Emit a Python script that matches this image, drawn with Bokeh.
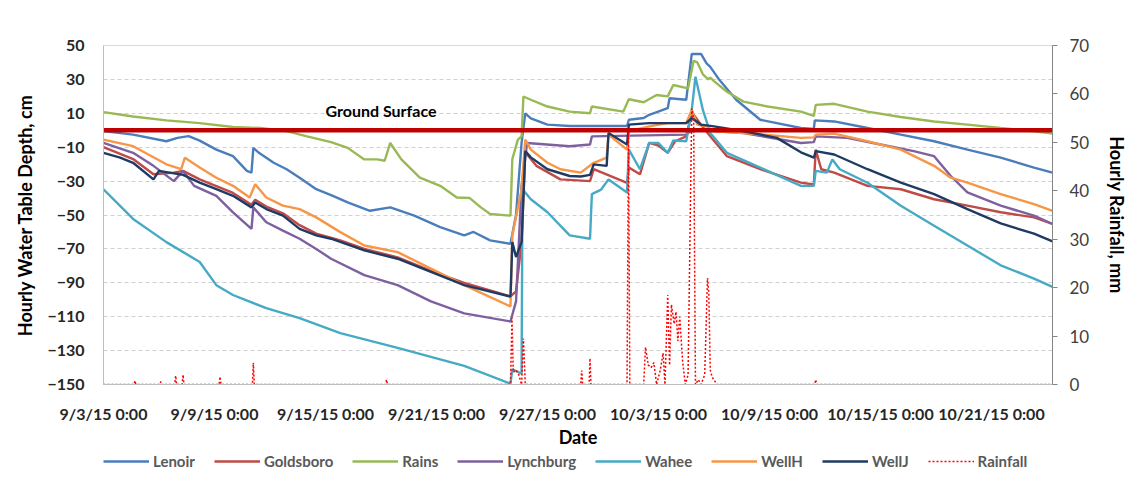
from bokeh.plotting import figure
from bokeh.layouts import column
from bokeh.models import Range1d, LinearAxis, FixedTicker, Legend, LegendItem, Label
from bokeh.embed import file_html
from bokeh.resources import INLINE

# ---------------- data ----------------
tick_days = [0, 6, 12, 18, 24, 30, 36, 42, 48]
tick_labels = ["9/3/15 0:00", "9/9/15 0:00", "9/15/15 0:00", "9/21/15 0:00", "9/27/15 0:00",
               "10/3/15 0:00", "10/9/15 0:00", "10/15/15 0:00", "10/21/15 0:00"]
depth_ticks = [-150, -130, -110, -90, -70, -50, -30, -10, 10, 30, 50]
rain_ticks = [0, 10, 20, 30, 40, 50, 60, 70]

lenoir_day = [0, 1.6, 3.4, 4.0, 4.6, 5.2, 6.1, 7.0, 7.75, 8.0, 8.1, 8.4, 9.2, 9.9, 10.6, 11.5, 12.4, 13.2,
              14.4, 15.5, 16.8, 18.2, 19.5, 20.0, 20.9, 22.0, 22.3, 22.6, 22.8, 23.1, 24.0, 25.2, 28.3,
              28.4, 29.2, 29.5, 30.5, 30.6, 31.5, 31.8, 32.3, 32.6, 32.8, 33.3, 34.2, 35.5, 37.7, 38.4,
              38.45, 39.5, 41.3, 43.1, 44.9, 46.7, 48.5, 50.3, 51.3]
lenoir_val = [-0.5, -2.6, -6.5, -4.5, -3.5, -6.1, -11.4, -15.3, -24, -25, -10.4, -13.3, -19.2, -23, -28,
              -34.8, -38.7, -42.6, -47.5, -45.5, -50.4, -57.2, -62, -60, -65, -67, -50, -7.5, 10, 7,
              3.3, 2.5, 2.5, 6.2, 7.2, 9.1, 13, 18.9, 18, 45, 45, 39.4, 37.4, 29.6, 18, 6.2, 1.3, 0.8,
              5.8, 5.2, 1.3, -2.6, -6.5, -11.4, -16.2, -22, -25]

goldsboro_day = [0, 1.6, 2.7, 3.8, 4.3, 5.2, 6.1, 7.0, 8.0, 8.2, 8.8, 9.7, 10.6, 11.5, 12.8, 14.1, 15.9,
                 17.7, 18.7, 19.5, 22.0, 22.3, 22.6, 22.8, 23.4, 24.7, 26.3, 26.5, 28.3, 28.4, 29.0,
                 29.5, 30.0, 30.5, 30.9, 31.5, 31.8, 32.3, 32.8, 33.7, 35.5, 37.7, 38.4, 38.5, 38.8,
                 39.5, 41.3, 43.1, 44.9, 46.7, 48.5, 50.3, 51.3]
goldsboro_val = [-10, -17, -26, -25, -24, -29, -33, -37, -44, -41, -45, -49, -56, -61, -65, -70, -75,
                 -83, -87, -90, -98, -95, -66, -13, -21, -29, -30, -23, -31, -22, -26, -7.5, -9, -13.3,
                 -6.5, -3.6, 10.6, 3.3, -3.6, -15.3, -23, -30.9, -32, -11.4, -23, -25, -32.8, -34.8,
                 -40.7, -44.5, -48.4, -51.4, -55.3]

rains_day = [0, 1.6, 3.4, 5.2, 7.0, 8.5, 9.9, 11.0, 12.3, 13.2, 14.1, 14.8, 15.2, 15.5, 16.1, 17.1, 18.2,
             19.1, 19.8, 20.4, 20.9, 22.0, 22.1, 22.4, 22.6, 22.7, 23.1, 24.0, 25.2, 26.3, 26.4, 28.1,
             28.4, 29.2, 29.9, 30.5, 30.8, 31.6, 31.9, 32.1, 32.4, 32.7, 32.8, 33.0, 33.7, 34.6, 35.9,
             37.7, 38.4, 38.5, 39.5, 41.3, 43.1, 44.9, 46.7, 48.5, 50.3, 51.3]
rains_val = [10.7, 8.1, 5.8, 4.2, 1.9, 1.3, -0.5, -3.6, -7, -10.4, -17.2, -17.2, -18, -7.5, -17.2, -28,
             -32.8, -39.7, -40, -45.5, -49.4, -50.4, -17, -5.5, -3.6, 19.9, 18, 14, 11, 10, 14, 11,
             18.3, 16.5, 20.8, 20, 26.7, 24.7, 41, 40, 33, 30, 31, 29, 22.7, 16.9, 14, 11, 8.5, 15,
             15.6, 11, 7.8, 5.2, 3.3, 1.3, -0.6, -2]

lynch_day = [0, 1.6, 2.7, 3.8, 4.3, 4.9, 6.1, 7.0, 8.0, 8.1, 8.8, 9.7, 10.6, 11.5, 12.3, 14.1, 15.9, 17.7,
             19.5, 22.0, 22.3, 22.6, 22.9, 25.2, 26.3, 26.4, 31.5, 31.8, 33.0, 34.6, 37.7, 38.4, 38.5,
             40.2, 42.0, 43.8, 44.9, 45.8, 46.7, 48.5, 50.3, 51.3]
lynch_val = [-7.5, -13.3, -21, -30, -24, -32.8, -38.7, -48.4, -58.2, -45.5, -54.3, -59.2, -64, -70,
             -75.8, -85.5, -91.4, -101, -108, -112.8, -101, -32.8, -7.5, -9.4, -8.4, -3.6, -2.6, 0.3,
             -0.5, -1.6, -7.5, -7, -3.6, -4.5, -8.4, -12.3, -15.3, -27, -36.7, -44.5, -50.4, -55.3]

wahee_day = [0, 1.6, 3.4, 5.2, 6.1, 7.0, 8.8, 10.6, 12.8, 15.9, 19.5, 22.0, 22.1, 22.6, 22.65, 23.1,
             24.0, 25.2, 26.3, 26.4, 26.9, 27.3, 28.3, 28.4, 29.0, 29.5, 30.0, 30.5, 30.8, 31.5, 31.8,
             32.0, 32.4, 32.8, 33.7, 35.5, 37.7, 38.4, 38.5, 39.1, 39.4, 39.8, 41.3, 43.1, 44.9, 46.7,
             48.5, 50.3, 51.3]
wahee_val = [-34.8, -52.3, -66, -77.7, -91.4, -97.2, -105, -110.9, -119.7, -128.4, -139, -149.5, -141,
             -143.6, -34.8, -40.7, -48.4, -62, -64, -37.7, -35, -29, -36.7, -11.4, -23, -7.5, -7.5,
             -13.3, -6, -6.5, 12, 31.6, 12, -1.6, -13.3, -22, -32.8, -32.8, -24, -25, -17.2, -23, -31,
             -44.5, -56.3, -68, -79.7, -87.5, -92.4]

wellh_day = [0, 1.6, 3.4, 4.2, 4.4, 5.2, 6.1, 7.0, 7.9, 8.2, 8.8, 9.7, 10.6, 11.5, 12.8, 14.1, 15.9, 17.7,
             19.5, 22.0, 22.1, 22.6, 22.8, 23.1, 24.0, 24.7, 25.8, 26.5, 27.2, 27.3, 28.3, 28.4, 29.5,
             30.5, 31.5, 31.8, 32.1, 32.6, 33.0, 34.6, 37.7, 38.4, 38.5, 39.5, 41.3, 43.1, 44.9, 45.8,
             46.7, 48.5, 50.3, 51.3]
wellh_val = [-5.5, -9.4, -20.1, -23, -16.2, -22, -28, -32.8, -39.7, -31.9, -39.7, -44.5, -46.5, -51.4,
             -60.1, -68, -71.9, -81.6, -91.4, -104, -62, -34.8, -5.5, -11.4, -19.2, -23, -25, -19.2,
             -16.2, -2.6, -11.4, -0.6, 2.3, 4.2, 4.2, 12, 3.3, 2.3, -0.6, -1.6, -4.5, -4.2, -2.6, -2,
             -6.5, -11.4, -21, -28, -30.9, -37.7, -43.6, -47.5]

wellj_day = [0, 0.9, 1.6, 2.7, 3.0, 4.3, 5.2, 6.1, 7.0, 8.0, 8.2, 8.8, 9.7, 10.6, 11.5, 12.3, 14.1, 15.9,
             17.7, 19.5, 22.0, 22.1, 22.3, 22.6, 22.8, 23.1, 24.0, 25.2, 25.8, 26.3, 26.5, 27.2, 27.3,
             28.3, 28.4, 29.5, 31.5, 31.8, 32.3, 33.0, 34.6, 36.4, 37.7, 38.4, 38.5, 39.5, 41.3, 43.1,
             44.9, 46.7, 48.5, 50.3, 51.3]
wellj_val = [-13.3, -16.2, -19.2, -29, -24, -26.3, -30.9, -34.8, -38.7, -45.5, -42.6, -46.5, -50.4,
             -58.2, -62, -64, -70.9, -75.8, -83.6, -91.4, -98.2, -66, -74.8, -66, -12.3, -16, -23, -27,
             -27.3, -26.3, -20.1, -21, -1.6, -8.4, 3.3, 4.2, 4.2, 7.2, 3.3, 2.3, -0.6, -4.5, -13, -16.2,
             -12.3, -14.3, -23, -30.9, -37.7, -46.5, -55, -61, -65.6]

rain_day = [0, 1.65, 1.7, 1.75, 3.05, 3.1, 3.15, 3.85, 3.9, 3.95, 4.25, 4.3, 4.35, 6.25, 6.3, 6.35,
            8.05, 8.1, 8.15, 15.25, 15.3, 15.35, 22.0, 22.08, 22.15, 22.3, 22.45, 22.6, 22.7, 22.8,
            25.8, 25.85, 25.9, 26.25, 26.3, 26.35, 28.3, 28.38, 28.45, 29.2, 29.3, 29.45, 29.6, 29.75,
            29.9, 30.1, 30.25, 30.35, 30.5, 30.6, 30.7, 30.85, 30.95, 31.05, 31.15, 31.3, 31.45, 31.6,
            31.8, 31.9, 32.0, 32.15, 32.3, 32.5, 32.65, 32.72, 32.8, 32.9, 33.0, 33.15, 38.45, 38.5,
            38.55, 51.3]
rain_val = [0, 0, 0.8, 0, 0, 0.6, 0, 0, 1.8, 0, 0, 2.0, 0, 0, 1.6, 0,
            0, 4.5, 0, 0, 1.0, 0, 0, 13.8, 2.5, 3.0, 2.0, 0, 9.5, 0,
            0, 2.9, 0, 0, 5.4, 0, 0, 53, 0, 0, 7.7, 4.0, 3.5, 4.5,
            0, 3.0, 6.5, 0, 18.5, 4.0, 16.5, 12.5, 15.0, 9.0, 14.0, 5.0, 0, 2.0,
            57, 55, 0, 1.0, 0, 2.0, 22, 19, 3.0, 1.5, 1.0, 0, 0, 1.0,
            0, 0]

ground_day = [0, 51.3]
ground_val = [0, 0]

series_names = ["Lenoir", "Goldsboro", "Rains", "Lynchburg", "Wahee", "WellH", "WellJ"]
series_colors = ["#4A7EBB", "#BE4B48", "#98B954", "#7D60A0", "#46AAC5", "#F79646", "#1F3B63"]
series_days = [lenoir_day, goldsboro_day, rains_day, lynch_day, wahee_day, wellh_day, wellj_day]
series_vals = [lenoir_val, goldsboro_val, rains_val, lynch_val, wahee_val, wellh_val, wellj_val]

FONT = "Lato"
W = 2.4
RAIN_COLOR = "#FF0000"
RAIN_DASH = "2 2"

p = figure(width=1135, height=450, x_range=Range1d(0, 51.3), y_range=Range1d(-150, 50),
           output_backend="svg", toolbar_location=None,
           min_border_left=103, min_border_right=83, min_border_top=45, min_border_bottom=66)
p.extra_y_ranges = {"rain": Range1d(0, 70)}
p.background_fill_color = "white"
p.border_fill_color = "white"
p.outline_line_color = "#D9D9D9"

# x axis
p.xaxis.ticker = FixedTicker(ticks=tick_days)
p.xaxis.major_label_overrides = {d: l for d, l in zip(tick_days, tick_labels)}
p.xaxis.axis_label = "Date"
p.xaxis.major_tick_line_color = None
p.xaxis.minor_tick_line_color = None
p.xaxis.axis_line_color = "#BFBFBF"
p.xaxis.major_label_standoff = 13
p.xaxis.axis_label_standoff = 0
p.xaxis.major_label_text_font = FONT
p.xaxis.major_label_text_font_style = "bold"
p.xaxis.major_label_text_font_size = "16px"
p.xaxis.major_label_text_color = "#262626"
p.xaxis.axis_label_text_font = FONT
p.xaxis.axis_label_text_font_style = "bold"
p.xaxis.axis_label_text_font_size = "18px"
p.xaxis.axis_label_text_color = "#000000"

# left axis
p.yaxis.ticker = FixedTicker(ticks=depth_ticks)
p.yaxis.axis_label = "Hourly Water Table Depth, cm"
p.yaxis.major_tick_line_color = None
p.yaxis.minor_tick_line_color = None
p.yaxis.axis_line_color = "#BFBFBF"
p.yaxis.major_label_standoff = 13
p.yaxis.axis_label_standoff = 8
p.yaxis.major_label_text_font = FONT
p.yaxis.major_label_text_font_style = "bold"
p.yaxis.major_label_text_font_size = "16px"
p.yaxis.major_label_text_color = "#262626"
p.yaxis.axis_label_text_font = FONT
p.yaxis.axis_label_text_font_style = "bold"
p.yaxis.axis_label_text_font_size = "18px"
p.yaxis.axis_label_text_color = "#000000"

# right axis
rax = LinearAxis(y_range_name="rain", ticker=FixedTicker(ticks=rain_ticks),
                 axis_label="Hourly Rainfall, mm")
rax.major_tick_out = 5
rax.major_tick_in = 0
rax.major_tick_line_color = "#868686"
rax.minor_tick_line_color = None
rax.axis_line_color = "#868686"
rax.major_label_standoff = 12
rax.axis_label_standoff = 14
rax.major_label_text_font = FONT
rax.major_label_text_font_size = "17px"
rax.major_label_text_color = "#404040"
rax.axis_label_text_font = FONT
rax.axis_label_text_font_style = "bold"
rax.axis_label_text_font_size = "18px"
rax.axis_label_text_color = "#000000"
p.add_layout(rax, "right")

# grid
p.xgrid.visible = False
p.ygrid.ticker = FixedTicker(ticks=depth_ticks)
p.ygrid.grid_line_color = "#D0D0D0"
p.ygrid.grid_line_dash = "4 3"
p.ygrid.grid_line_width = 1

for xs, ys, col in zip(series_days, series_vals, series_colors):
    p.line(xs, ys, line_color=col, line_width=W)

p.line(rain_day, rain_val, y_range_name="rain", line_color=RAIN_COLOR,
       line_width=1.5, line_dash=RAIN_DASH)

p.line(ground_day, ground_val, line_color="#C00000", line_width=4.5)

p.add_layout(Label(x=15.0, y=11.5, text="Ground Surface", text_align="center",
                   text_baseline="middle", text_font=FONT, text_font_style="bold",
                   text_font_size="16px", text_color="#000000"))

# ---------------- legend strip ----------------
lf = figure(width=1135, height=32, x_range=Range1d(0, 1), y_range=Range1d(0, 1),
            output_backend="svg", toolbar_location=None, min_border=0)
lf.axis.visible = False
lf.grid.visible = False
lf.outline_line_color = None
lf.background_fill_color = "white"
lf.border_fill_color = "white"

items = []
for name, xs, ys, col in zip(series_names, series_days, series_vals, series_colors):
    r = lf.line(xs, ys, line_color=col, line_width=W, visible=False)
    items.append(LegendItem(label=name, renderers=[r]))
r = lf.line(rain_day, rain_val, line_color=RAIN_COLOR, line_width=1.5, line_dash=RAIN_DASH,
            visible=False)
items.append(LegendItem(label="Rainfall", renderers=[r]))

legend = Legend(items=items, orientation="horizontal", location=(0, 12))
legend.label_text_font = FONT
legend.label_text_font_style = "bold"
legend.label_text_font_size = "15px"
legend.label_text_color = "#595959"
legend.glyph_width = 46
legend.glyph_height = 12
legend.spacing = 19
legend.label_standoff = 4
legend.border_line_color = None
legend.background_fill_alpha = 0
legend.inactive_fill_alpha = 0
legend.padding = 0
legend.margin = 0
lf.add_layout(legend)

layout = column(p, lf, spacing=0)
open("out.html", "w").write(file_html(layout, INLINE))
